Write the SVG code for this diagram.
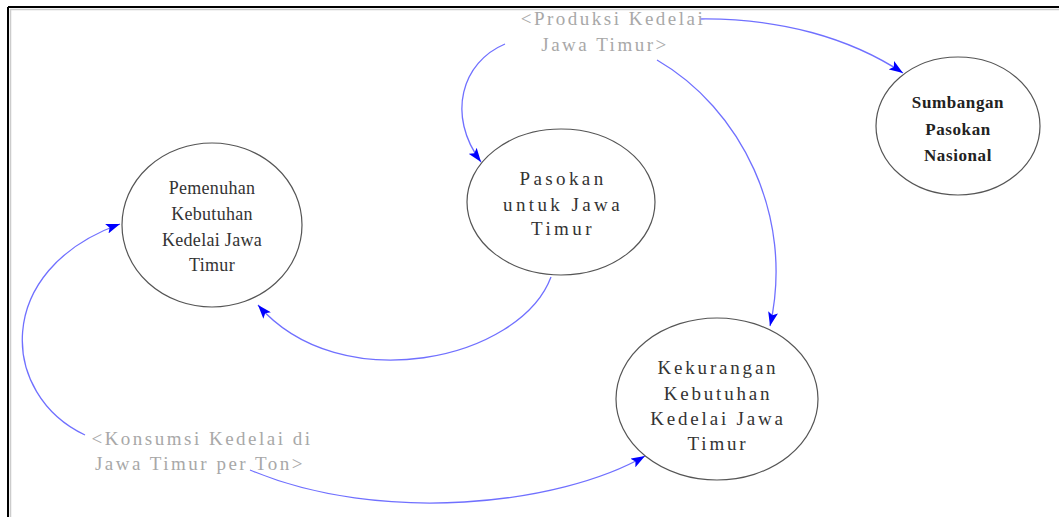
<svg xmlns="http://www.w3.org/2000/svg" width="1059" height="517" viewBox="0 0 1059 517">
<defs>
<marker id="ah" markerWidth="14" markerHeight="10" refX="14" refY="5" orient="auto" markerUnits="userSpaceOnUse">
<path d="M0,0 L14,5 L0,10 L3,5 Z" fill="#0000ff"/>
</marker>
<style>
.node ellipse{fill:#ffffff;stroke:#555555;stroke-width:1.2}
.node text{font-family:"Liberation Serif","Times New Roman",serif;font-size:19px;fill:#333333;text-anchor:middle}
.node text.b{font-size:17px;font-weight:bold;fill:#222222;letter-spacing:0.6px}
.wide text{letter-spacing:2.8px}
.wider text{letter-spacing:3.4px}
.narrow text{font-size:18px;letter-spacing:0.3px}
.lbl text{font-family:"Liberation Serif","Times New Roman",serif;font-size:19px;fill:#a8a8a8;text-anchor:middle;letter-spacing:2.5px}
.conn path{fill:none;stroke:#7070ff;stroke-width:1.3;marker-end:url(#ah)}
</style>
</defs>
<rect width="1059" height="517" fill="#ffffff"/>
<g id="frame">
<line x1="8" y1="7" x2="1059" y2="7" stroke="#000" stroke-width="2"/>
<line x1="8" y1="7" x2="8" y2="517" stroke="#000" stroke-width="2"/>
<line x1="10" y1="9.5" x2="1059" y2="9.5" stroke="#cccccc" stroke-width="1.5"/>
<line x1="10.5" y1="9" x2="10.5" y2="517" stroke="#cccccc" stroke-width="1.5"/>
</g>
<g id="connectors" class="conn">
<path d="M700,19 C780,18 850,38 903,73"/>
<path d="M505,44 C462,62 446,115 481,162"/>
<path d="M657,60 C740,108 795,215 770,326"/>
<path d="M551,277 C520,360 340,400 258,305"/>
<path d="M85,435 C0,395 -8,270 120,224"/>
<path d="M250,470 C380,525 560,505 645,456"/>
</g>
<g id="label-produksi" class="lbl">
<text x="613" y="25">&lt;Produksi Kedelai</text>
<text x="605" y="51">Jawa Timur&gt;</text>
</g>
<g id="label-konsumsi" class="lbl">
<text x="202" y="445">&lt;Konsumsi Kedelai di</text>
<text x="200" y="470">Jawa Timur per Ton&gt;</text>
</g>
<g id="node-pemenuhan" class="node narrow">
<ellipse cx="212" cy="225" rx="90" ry="82"/>
<text x="212" y="194">Pemenuhan</text>
<text x="212" y="220">Kebutuhan</text>
<text x="212" y="246">Kedelai Jawa</text>
<text x="212" y="271">Timur</text>
</g>
<g id="node-pasokan" class="node wider">
<ellipse cx="561" cy="202" rx="94" ry="73"/>
<text x="563" y="185">Pasokan</text>
<text x="563" y="211">untuk Jawa</text>
<text x="563" y="235">Timur</text>
</g>
<g id="node-sumbangan" class="node">
<ellipse cx="958" cy="126" rx="82" ry="69"/>
<text class="b" x="958" y="108">Sumbangan</text>
<text class="b" x="958" y="135">Pasokan</text>
<text class="b" x="958" y="161">Nasional</text>
</g>
<g id="node-kekurangan" class="node wide">
<ellipse cx="717" cy="399" rx="101" ry="81"/>
<text x="718" y="374">Kekurangan</text>
<text x="718" y="400">Kebutuhan</text>
<text x="718" y="425">Kedelai Jawa</text>
<text x="718" y="450">Timur</text>
</g>
</svg>
